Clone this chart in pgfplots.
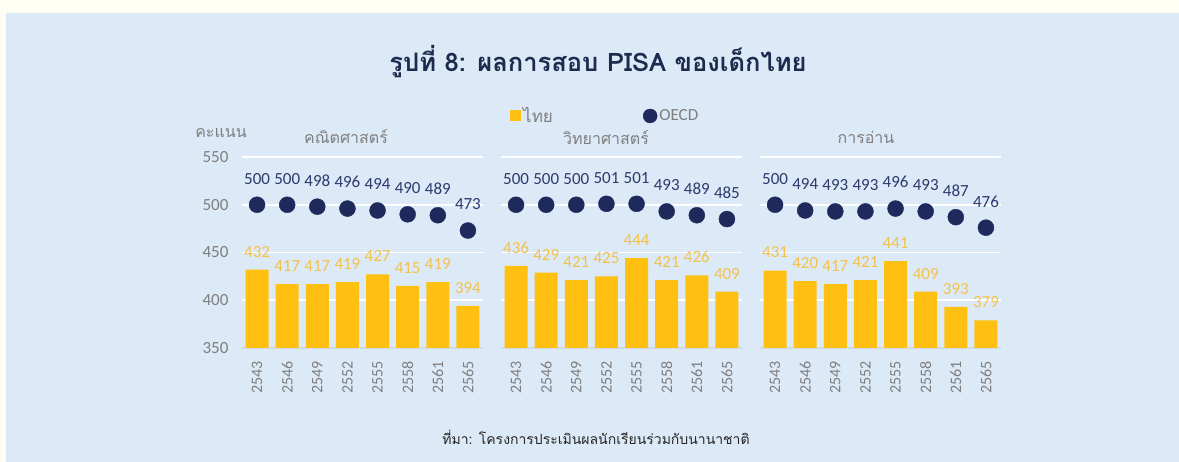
\documentclass[border=0pt]{standalone}
\usepackage{pgfplots}
\pgfplotsset{compat=1.18}
\usepackage{fontspec}
\setmainfont{Carlito}
\newfontfamily\thai[Script=Thai]{Loma}
\definecolor{cream}{HTML}{FFFEF3}
\definecolor{bgblue}{HTML}{DCE9F6}
\definecolor{gold}{HTML}{FFC012}
\definecolor{goldlab}{HTML}{F3C24C}
\definecolor{navy}{HTML}{1F2A5C}
\definecolor{navylab}{HTML}{2E3A6E}
\definecolor{graytext}{HTML}{7F7F7F}
\definecolor{titlenavy}{HTML}{1C2B4E}
\definecolor{baseln}{HTML}{D3DAE2}
\pgfplotsset{
  panel/.style={
    scale only axis, width=241pt, height=191pt,
    xmin=-0.5, xmax=7.5, ymin=350, ymax=550,
    axis line style={draw=none},
    major tick length=0pt,
    ytick={400,450,500,550},
    extra y ticks={350},
    extra y tick style={grid style={color=baseln, line width=1.5pt}},
    ymajorgrids, grid style={white, line width=1.8pt},
    xtick={0,...,7},
    xticklabels={2543,2546,2549,2552,2555,2558,2561,2565},
    x tick label style={rotate=90, anchor=east, font=\fontsize{16}{16}\selectfont, text=graytext, xshift=-10pt},
    y tick label style={font=\fontsize{17}{17}\selectfont, text=graytext, xshift=-10pt},
    /pgf/number format/assume math mode=true,
    clip=false,
  },
  thaibars/.style={ybar, bar width=23pt, fill=gold, draw=none,
    nodes near coords,
    nodes near coords style={font=\fontsize{17}{17}\selectfont, text=goldlab, anchor=south, yshift=9pt}},
  oecd/.style={only marks, mark=*, mark size=8pt, color=navy,
    nodes near coords,
    nodes near coords style={font=\fontsize{17}{17}\selectfont, text=navylab, anchor=south, yshift=17pt}},
}
\begin{document}
\begin{tikzpicture}[x=1pt,y=1pt]
\fill[cream] (0,0) rectangle (1179,-462);
\fill[bgblue] (6,-13) rectangle (1179,-462);
\node[font=\thai\bfseries\fontsize{25.5}{30}\selectfont, text=titlenavy] at (598,-62) {รูปที่ 8: ผลการสอบ PISA ของเด็กไทย};
\node[font=\thai\fontsize{14}{16}\selectfont, text=black!85] at (596,-437) {ที่มา: โครงการประเมินผลนักเรียนร่วมกับนานาชาติ};
\node[font=\thai\fontsize{16}{18}\selectfont, text=graytext] at (221,-133) {คะแนน};
\node[font=\thai\fontsize{16}{18}\selectfont, text=graytext] at (346,-137) {คณิตศาสตร์};
\node[font=\thai\fontsize{16}{18}\selectfont, text=graytext] at (606,-138) {วิทยาศาสตร์};
\node[font=\thai\fontsize{16}{18}\selectfont, text=graytext] at (866,-137) {การอ่าน};

% Math
\begin{axis}[panel, at={(242pt,-348pt)}, anchor=south west,
  extra y tick labels={350}]
\addplot[thaibars] coordinates {(0,432) (1,417) (2,417) (3,419) (4,427) (5,415) (6,419) (7,394)};
\addplot[oecd] coordinates {(0,500) (1,500) (2,498) (3,496) (4,494) (5,490) (6,489) (7,473)};
\end{axis}

% Science
\begin{axis}[panel, at={(501pt,-348pt)}, anchor=south west,
  yticklabels={}, extra y tick labels={},
  legend style={at={(0.025,1.215)}, anchor=west, draw=none, fill=none,
    font=\fontsize{17}{17}\selectfont, text=graytext,
    legend columns=2, /tikz/every even column/.append style={column sep=88pt}},
  legend cell align=left]
\addplot[thaibars, legend image code/.code={\fill[gold] (0pt,-5.5pt) rectangle (11pt,5.5pt);}] coordinates {(0,436) (1,429) (2,421) (3,425) (4,444) (5,421) (6,426) (7,409)};
\addlegendentry{\thai ไทย}
\addplot[oecd, legend image code/.code={\fill[navy] (5pt,0pt) circle (7pt);}] coordinates {(0,500) (1,500) (2,500) (3,501) (4,501) (5,493) (6,489) (7,485)};
\addlegendentry{OECD}
\end{axis}

% Reading
\begin{axis}[panel, at={(760pt,-348pt)}, anchor=south west,
  yticklabels={}, extra y tick labels={}]
\addplot[thaibars] coordinates {(0,431) (1,420) (2,417) (3,421) (4,441) (5,409) (6,393) (7,379)};
\addplot[oecd] coordinates {(0,500) (1,494) (2,493) (3,493) (4,496) (5,493) (6,487) (7,476)};
\end{axis}
\end{tikzpicture}
\end{document}
